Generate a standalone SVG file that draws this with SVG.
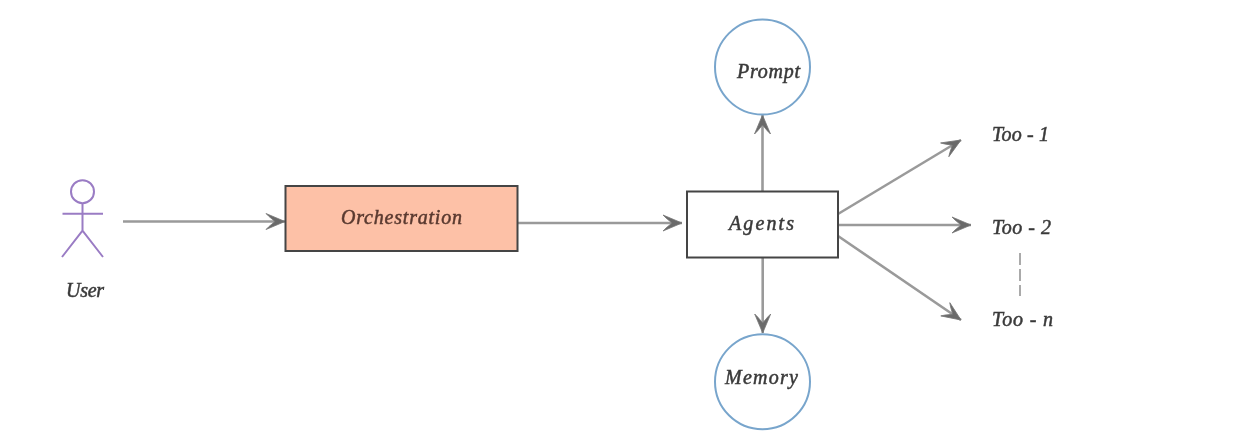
<svg xmlns="http://www.w3.org/2000/svg" width="1257" height="445" viewBox="0 0 1257 445">
  <style>
    text { font-family: "Liberation Serif", "DejaVu Serif", serif; font-style: italic; font-size: 20px; fill: #3a3a3a; stroke: #3a3a3a; stroke-width: 0.5; }
    .box { stroke: #444; stroke-width: 2; }
    .ball { fill: #fff; stroke: #78a5cc; stroke-width: 2; }
    .limb { fill: none; stroke: #9a7cc4; stroke-width: 2; }
    .wire { fill: none; stroke: #9a9a9a; stroke-width: 2.6; marker-end: url(#barb); }
  </style>
  <defs>
    <filter id="soft" x="-5%" y="-5%" width="110%" height="110%"><feGaussianBlur stdDeviation="0.55"/></filter>
    <marker id="barb" markerUnits="userSpaceOnUse" markerWidth="24" markerHeight="20" refX="20" refY="10" orient="auto">
      <path d="M1 2L20 10L1 18L4 15L10 10L4 5Z" fill="#6a6a6a" stroke="#777" stroke-width="0.8"/>
    </marker>
  </defs>
  <rect width="1257" height="445" fill="#fff"/>

  <g id="connectors" filter="url(#soft)">
    <path class="wire" d="M123 221.5H285"/>
    <path class="wire" d="M518 223H682"/>
    <path class="wire" d="M762.5 191V115"/>
    <path class="wire" d="M762.7 257V333"/>
    <path class="wire" d="M838 214L961 140"/>
    <path class="wire" d="M838 225H971"/>
    <path class="wire" d="M838 236L961 320"/>
    <path fill="none" stroke="#aaa" stroke-width="2" stroke-dasharray="12 4" d="M1020 253V296"/>
  </g>

  <g id="user" filter="url(#soft)">
    <circle class="limb" cx="82.5" cy="191.7" r="11.5"/>
    <path class="limb" d="M62.5 213.7H103M82.5 203.2V230.7M82.5 230.7L62 257M82.5 230.7L103 257"/>
    <text x="66" y="297" textLength="38">User</text>
  </g>

  <g id="orchestration" filter="url(#soft)">
    <rect class="box" x="285.5" y="186" width="232" height="65" fill="#fdc1a7"/>
    <text x="341" y="224" textLength="121" style="fill:#5a3a30;stroke:#5a3a30">Orchestration</text>
  </g>

  <g id="agents" filter="url(#soft)">
    <rect class="box" x="687" y="191.5" width="151" height="66" fill="#fff"/>
    <text x="729" y="230" textLength="65">Agents</text>
  </g>

  <g id="prompt" filter="url(#soft)">
    <circle class="ball" cx="762.5" cy="67" r="47.5"/>
    <text x="737" y="78" textLength="63">Prompt</text>
  </g>

  <g id="memory" filter="url(#soft)">
    <circle class="ball" cx="762.5" cy="381.7" r="47.5"/>
    <text x="725" y="384" textLength="73">Memory</text>
  </g>

  <g id="tool-1" filter="url(#soft)"><text x="992" y="141" textLength="57">Too - 1</text></g>
  <g id="tool-2" filter="url(#soft)"><text x="992" y="234" textLength="59">Too - 2</text></g>
  <g id="tool-n" filter="url(#soft)"><text x="992" y="326" textLength="61">Too - n</text></g>
</svg>
